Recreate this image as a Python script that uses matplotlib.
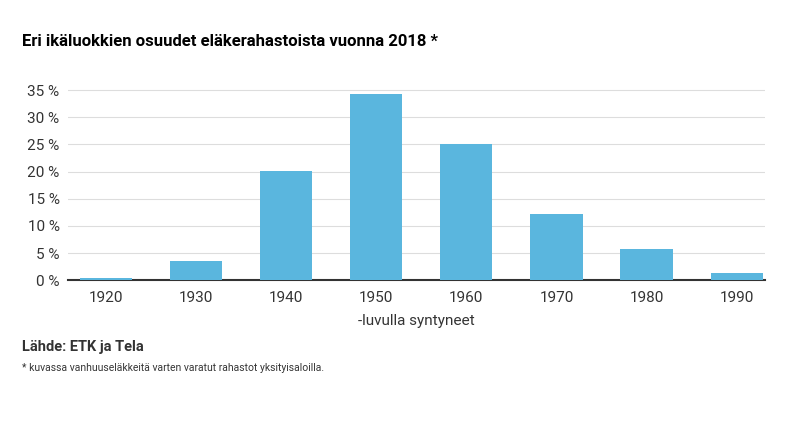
import matplotlib
matplotlib.use("Agg")
import matplotlib.pyplot as plt
plt.rcParams["font.family"] = "Roboto"

categories = ["1920", "1930", "1940", "1950", "1960", "1970", "1980", "1990"]
values = [0.4, 3.6, 20.1, 34.3, 25.0, 12.1, 5.7, 1.4]
yticks = [0, 5, 10, 15, 20, 25, 30, 35]

fig = plt.figure(figsize=(7.9, 4.22), dpi=100)
ax = fig.add_axes([0.086, 0.336, 0.882, 0.47])
x = list(range(len(categories)))
ax.bar(x, values, width=0.58, color="#5ab6de", zorder=3)
ax.set_xlim(-0.42, 7.31)
ax.set_ylim(0, 36.5)
ax.set_yticks(yticks)
ax.set_yticklabels([f"{t} %" for t in yticks], fontsize=11, color="#333333")
ax.set_xticks(x)
ax.set_xticklabels(categories, fontsize=11, color="#333333")
ax.grid(axis="y", color="#dddddd", linewidth=0.8, zorder=0)
for s in ["top", "right", "left"]:
    ax.spines[s].set_visible(False)
ax.spines["bottom"].set_color("#333333")
ax.spines["bottom"].set_linewidth(1.5)
ax.tick_params(axis="y", length=0, pad=6)
ax.tick_params(axis="x", length=0, pad=8)
ax.set_xlabel("-luvulla syntyneet", fontsize=11, color="#333333", labelpad=6)

fig.text(22/790, 1-42/422, "Eri ikäluokkien osuudet eläkerahastoista vuonna 2018 *",
         fontsize=12, fontweight="bold", va="center", ha="left")
fig.text(22/790, 1-347/422, "Lähde: ETK ja Tela", fontsize=10.5, fontweight="bold",
         va="center", ha="left", color="#333333")
fig.text(22/790, 1-368/422, "* kuvassa vanhuuseläkkeitä varten varatut rahastot yksityisaloilla.",
         fontsize=7.5, va="center", ha="left", color="#333333")
fig.savefig("out.png", dpi=100)
